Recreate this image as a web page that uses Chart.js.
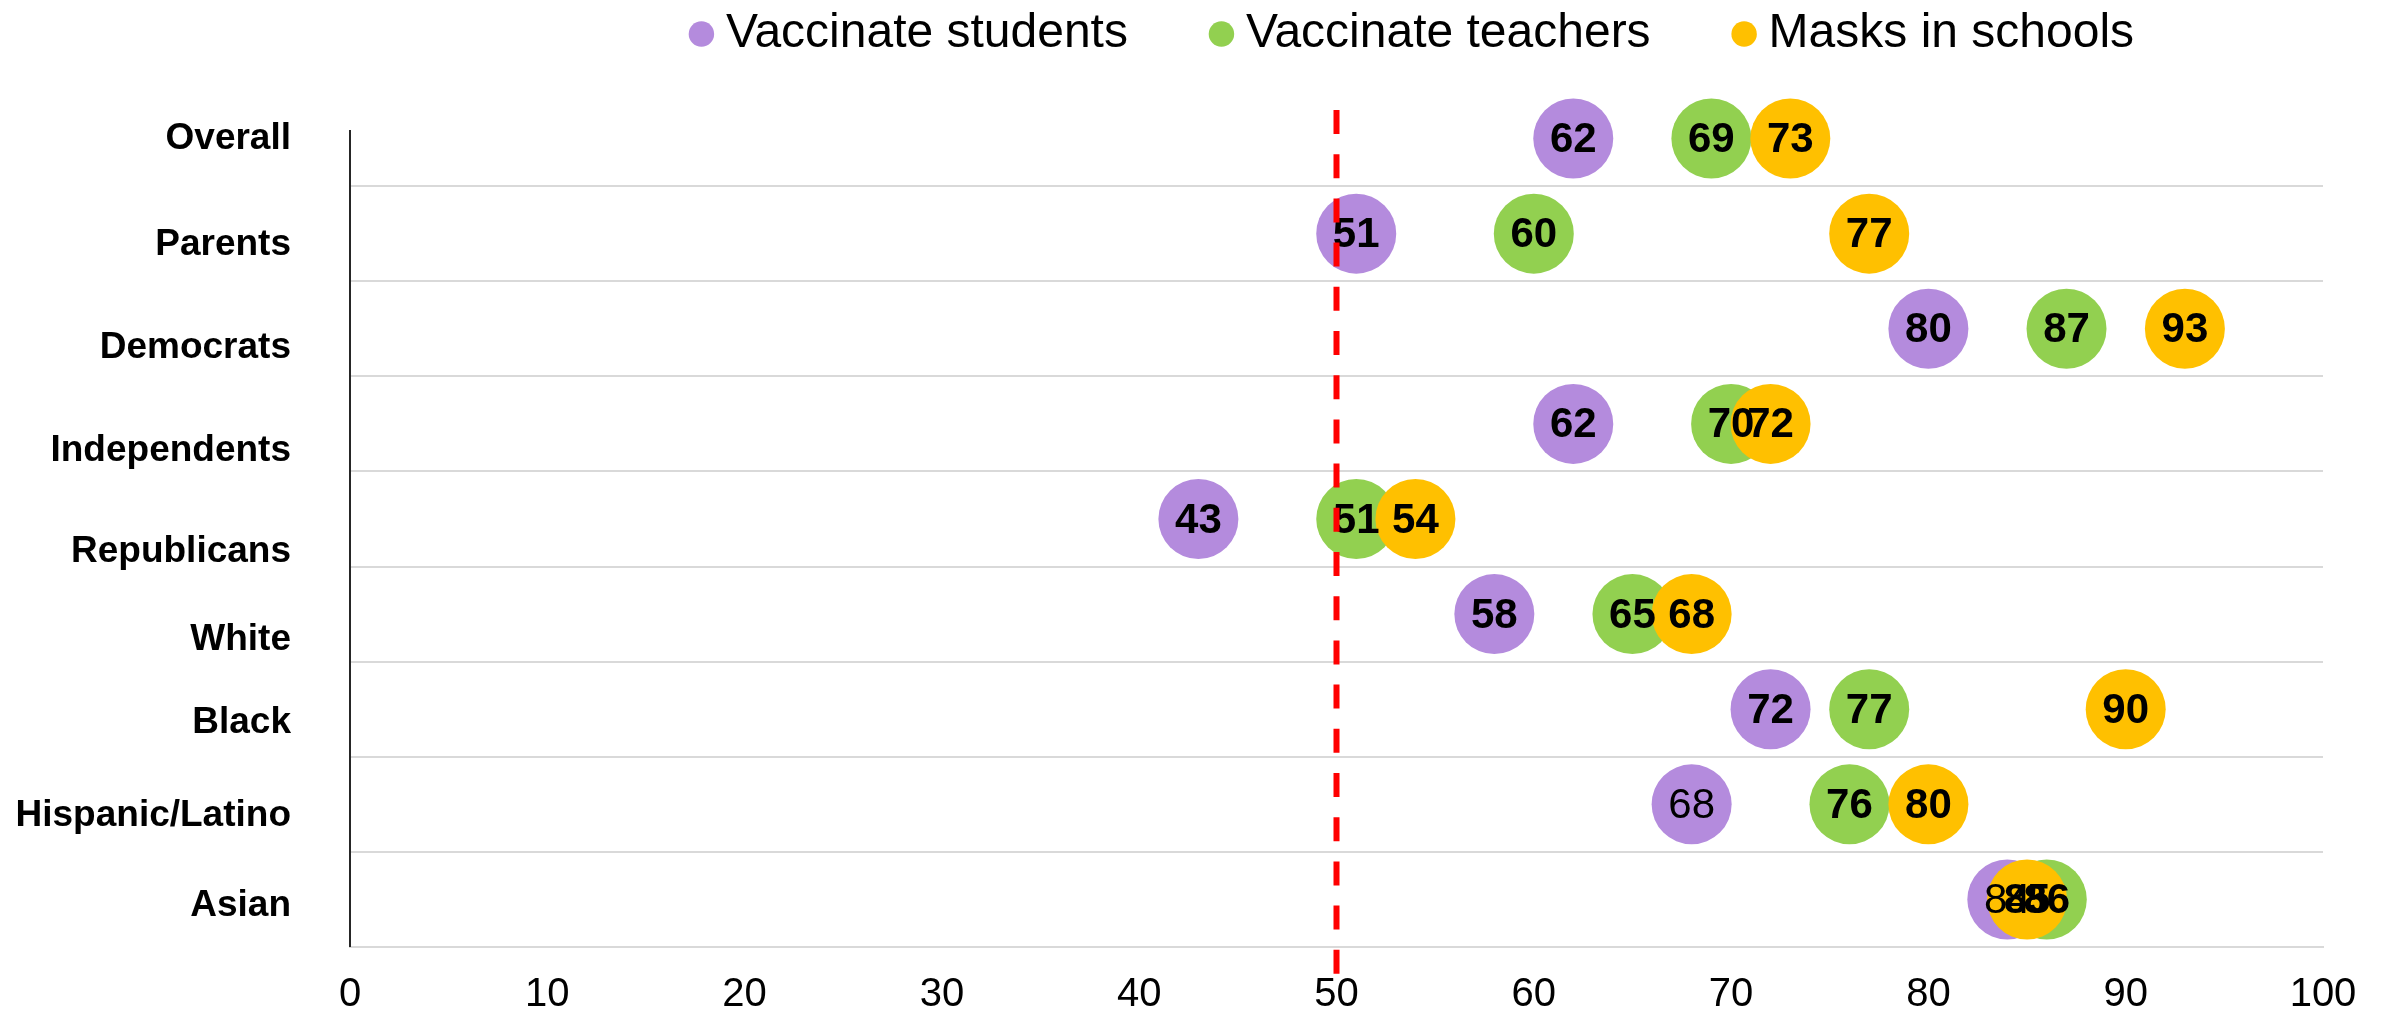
<!DOCTYPE html>
<html><head><meta charset="utf-8">
<script src="https://cdn.jsdelivr.net/npm/chart.js@4/dist/chart.umd.min.js"></script>
<style>html,body{margin:0;padding:0;background:#fff;} canvas{display:block;}</style>
</head><body>
<canvas id="c" width="2384" height="1017"></canvas>
<script>
// ---- data ----
const categories = ['Overall','Parents','Democrats','Independents','Republicans','White','Black','Hispanic/Latino','Asian'];
const seriesNames = ['Vaccinate students','Vaccinate teachers','Masks in schools'];
const vaccinateStudents = [62,51,80,62,43,58,72,68,84];
const vaccinateTeachers = [69,60,87,70,51,65,77,76,86];
const masksInSchools   = [73,77,93,72,54,68,90,80,85];
const xTickMin = 0, xTickMax = 100, xTickStep = 10;
const referenceValue = 50;

// ---- style ----
const seriesValues = [vaccinateStudents, vaccinateTeachers, masksInSchools];
const seriesColors = ['#B48BDD','#92D050','#FFC000'];
const categoryLabelShift = [0.0,0.12,0.20,0.28,0.34,0.27,0.14,0.12,0.07];
const plainLabelPoints = ['0:7','0:8'];
const FAMILY = '"Liberation Sans", Arial, sans-serif';

const layoutTweaks = {
  id: 'layoutTweaks',
  afterInit(chart) {
    const lg = chart.legend;
    const orig = lg.fit;
    lg.fit = function () { orig.call(this); this.height = 91; };
  },
  afterLayout(chart) {
    const lg = chart.legend;
    lg.left += 256; lg.right += 256;
    lg.top = -83;
  }
};

const axisLine = {
  id: 'axisLine',
  beforeDatasetsDraw(chart) {
    const ctx = chart.ctx;
    const area = chart.chartArea;
    const x = chart.scales.y.right;
    ctx.save();
    ctx.strokeStyle = '#262626';
    ctx.lineWidth = 2;
    ctx.beginPath();
    ctx.moveTo(x, area.top + 39);
    ctx.lineTo(x, area.bottom);
    ctx.stroke();
    ctx.restore();
  }
};

const overlay = {
  id: 'overlay',
  afterDatasetsDraw(chart) {
    const ctx = chart.ctx;
    const area = chart.chartArea;
    ctx.save();
    ctx.textAlign = 'center';
    ctx.textBaseline = 'middle';
    ctx.fillStyle = '#000';
    chart.data.datasets.forEach((ds, di) => {
      const meta = chart.getDatasetMeta(di);
      meta.data.forEach((pt, i) => {
        const plain = plainLabelPoints.includes(di + ':' + i);
        ctx.font = (plain ? '' : 'bold ') + '42px ' + FAMILY;
        ctx.fillText(String(ds.data[i].x), pt.x, pt.y + 2);
      });
    });
    const px = chart.scales.x.getPixelForValue(referenceValue);
    ctx.strokeStyle = '#FF0000';
    ctx.lineWidth = 6;
    ctx.setLineDash([24, 20.2]);
    ctx.beginPath();
    ctx.moveTo(px, area.top + 19);
    ctx.lineTo(px, area.bottom + 27);
    ctx.stroke();
    ctx.restore();
  }
};

new Chart(document.getElementById('c'), {
  type: 'scatter',
  data: {
    datasets: seriesNames.map((name, s) => ({
      label: name,
      data: categories.map((c, i) => ({ x: seriesValues[s][i], y: c })),
      backgroundColor: seriesColors[s],
      borderWidth: 0,
      pointRadius: 40,
      pointHoverRadius: 40,
      order: 2 - s,
      yAxisID: 'y',
      clip: false
    }))
  },
  options: {
    responsive: false,
    animation: false,
    events: [],
    layout: { autoPadding: false, padding: { left: 0, right: 61, top: 0, bottom: 0 } },
    plugins: {
      tooltip: { enabled: false },
      legend: {
        position: 'top',
        labels: {
          usePointStyle: true,
          pointStyle: 'circle',
          boxWidth: 1,
          boxHeight: 18,
          padding: 93,
          color: '#000',
          font: { size: 48, family: FAMILY },
          sort: (a, b) => a.datasetIndex - b.datasetIndex
        }
      }
    },
    scales: {
      x: {
        type: 'linear', position: 'bottom',
        min: xTickMin, max: xTickMax,
        ticks: { stepSize: xTickStep, color: '#000', padding: 24, font: { size: 40, family: FAMILY } },
        grid: { display: false, drawTicks: false },
        border: { display: true, color: '#d9d9d9', width: 2 },
        afterFit(s) { s.height = 70; }
      },
      y: {
        type: 'category', labels: categories, position: 'left', offset: true, weight: 0,
        ticks: { display: false },
        grid: { offset: true, drawTicks: false, lineWidth: 2,
          color: c => c.index === 0 ? 'rgba(0,0,0,0)' : '#d9d9d9' },
        border: { display: false },
        afterFit(s) { s.width = 0; s.paddingTop = 0; s.paddingBottom = 0; }
      },
      yl: {
        type: 'linear', position: 'left', weight: 1, reverse: true,
        min: -0.5, max: categories.length - 0.5,
        grid: { display: false, drawTicks: false },
        border: { display: false },
        ticks: { autoSkip: false, padding: 59, color: '#000',
          font: { size: 37, weight: 'bold', family: FAMILY },
          callback: (v, i) => categories[i] },
        afterBuildTicks(s) { s.ticks = categories.map((c, i) => ({ value: i + categoryLabelShift[i] })); },
        afterFit(s) { s.width = 350; s.paddingTop = 0; s.paddingBottom = 0; }
      }
    }
  },
  plugins: [layoutTweaks, axisLine, overlay]
});
</script>
</body></html>
